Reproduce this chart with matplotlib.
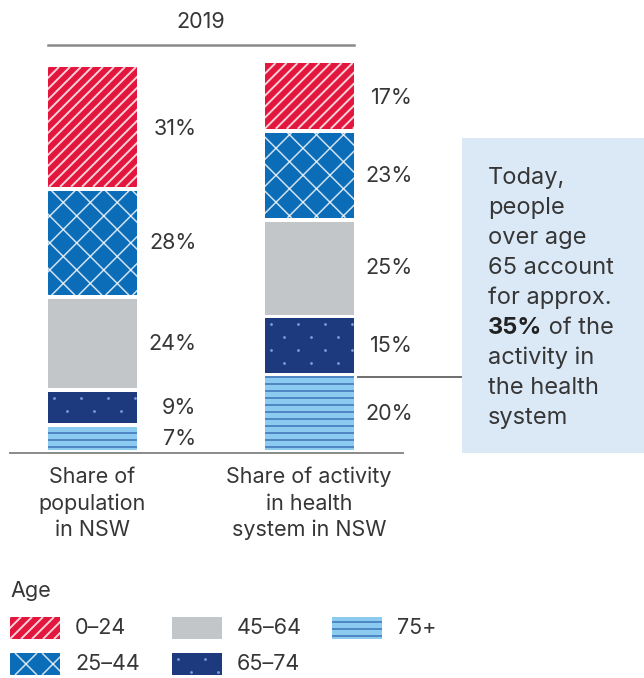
import numpy as np
import matplotlib
matplotlib.use('Agg')
import matplotlib.pyplot as plt
from matplotlib.patches import Rectangle
from matplotlib.collections import LineCollection
from matplotlib.lines import Line2D
from matplotlib.transforms import IdentityTransform

plt.rcParams['font.family'] = ['Inter', 'DejaVu Sans']

# stacked shares, listed top of the bar to bottom
ages = ['0–24', '25–44', '45–64', '65–74', '75+']
population = [31, 28, 24, 9, 7]
activity = [17, 23, 25, 15, 20]
groups = [['Share of', 'population', 'in NSW'],
          ['Share of activity', 'in health', 'system in NSW']]
year = '2019'
note = ['Today,', 'people', 'over age', '65 account', 'for approx.',
        '35%| of the', 'activity in', 'the health', 'system']

fills = ['#e3173e', '#0b6cb8', '#c3c6c9', '#1e3a7f', '#8ccbf0']
patterns = ['diag', 'cross', None, 'dots', 'hlines']
txt = '#363636'
fs = 15.5
W, H = 644, 678


def fx(x):
    return x / W


def fy(y):
    return 1 - y / H


def add_pattern(fig, patch, kind):
    # pattern lines are laid out in pixels and clipped to the patch
    bb = patch.get_window_extent()
    x0, y0, x1, y1 = bb.x0, bb.y0, bb.x1, bb.y1
    h = y1 - y0
    segs = []
    if kind == 'diag':
        for a in np.arange(x0 - h, x1 + 11, 11):
            segs.append([(a, y0), (a + h, y1)])
        art = LineCollection(segs, colors='white', linewidths=1.4, alpha=0.8,
                             transform=IdentityTransform())
    elif kind == 'cross':
        for a in np.arange(x0 - h - 27, x1 + 27, 27):
            segs.append([(a, y0), (a + h, y1)])
            segs.append([(a + h, y0), (a, y1)])
        art = LineCollection(segs, colors='white', linewidths=1.1, alpha=0.8,
                             transform=IdentityTransform())
    elif kind == 'hlines':
        for yy in np.arange(y0 + 3, y1, 7):
            segs.append([(x0, yy), (x1, yy)])
        art = LineCollection(segs, colors='#3f74b8', linewidths=1.1,
                             transform=IdentityTransform())
    elif kind == 'dots':
        xs, ys = [], []
        for r, yy in enumerate(np.arange(y1 - 6, y0, -13)):
            off = 6 if r % 2 == 0 else 19
            for xx in np.arange(x0 + off, x1, 27):
                xs.append(xx)
                ys.append(yy)
        art = Line2D(xs, ys, ls='none', marker='o', ms=2.0, mfc='#7f9fd6',
                     mec='none', transform=IdentityTransform())
    else:
        return
    art.set_clip_path(patch)
    fig.add_artist(art)


fig = plt.figure(figsize=(6.44, 6.78), dpi=100)
ax = fig.add_axes([fx(10), 1 - 450 / H, 450 / W, 387 / H])
ax.set_xlim(-0.381, 1.697)
ax.set_ylim(0, 100)
ax.axis('off')
px_per_unit = 387 / 100

width = 0.411
gap = 1.0
for i, shares in enumerate([population, activity]):
    cum = 0
    # stack from the oldest group at the bottom
    for k in reversed(range(len(ages))):
        val = shares[k]
        hgt = val - gap if k > 0 else val
        bar = ax.bar(i, hgt, bottom=cum, width=width, color=fills[k], linewidth=0)[0]
        add_pattern(fig, bar, patterns[k])
        ax.text(i + 0.48, cum + val / 2 - 0.6, f'{val}%', ha='right', va='center',
                fontsize=fs, color=txt)
        cum += val
    # group label under the bar, one line at a time
    for j, line in enumerate(groups[i]):
        ax.text(i, -(33 + 26.5 * j) / px_per_unit, line, ha='center',
                va='baseline', fontsize=fs, color=txt)

# base line and year bracket
ax.axhline(-0.8, xmin=0, xmax=393 / 450, color='#8a8a8a', lw=1.4, clip_on=False)
ax.plot([-width / 2, 1 + width / 2], [104.7, 104.7], color='#8a8a8a', lw=1.8,
        clip_on=False)
ax.text(0.5, 109, year, ha='center', va='baseline', fontsize=fs, color=txt)

# callout box
fig.add_artist(Rectangle((fx(462), fy(453)), fx(W - 462), (453 - 138) / H,
                         transform=fig.transFigure, facecolor='#dbe9f7',
                         edgecolor='none'))
ax.plot([1 + width / 2 + 0.02, (462 - 92.5) / 216.5],
        [activity[-1] - gap - 0.2] * 2, color='#6e6e6e', lw=1.4, clip_on=False)

renderer = fig.canvas.get_renderer()
for j, line in enumerate(note):
    yb = 184 + j * 30
    if '|' in line:
        bold, rest = line.split('|')
        t = fig.text(fx(488), fy(yb), bold, fontsize=17, fontweight='bold',
                     color='#222222', va='baseline')
        bb = t.get_window_extent(renderer)
        fig.text(bb.x1 / W, fy(yb), rest, fontsize=17, color=txt, va='baseline')
    else:
        fig.text(fx(488), fy(yb), line, fontsize=17, color=txt, va='baseline')

# legend
fig.text(fx(10), fy(597), 'Age', fontsize=fs, color=txt, va='baseline')
cols = [10, 172, 332]
rows = [628, 664]
for k, name in enumerate(ages):
    cx = cols[k // 2] if k < 4 else cols[2]
    cy = rows[k % 2] if k < 4 else rows[0]
    rect = Rectangle((fx(cx), fy(cy + 11)), 50 / W, 22 / H, transform=fig.transFigure,
                     facecolor=fills[k], edgecolor='none')
    fig.add_artist(rect)
    add_pattern(fig, rect, patterns[k])
    fig.text(fx(cx + 65), fy(cy), name, fontsize=fs, color=txt, va='center')

plt.savefig('out.png', dpi=100)
